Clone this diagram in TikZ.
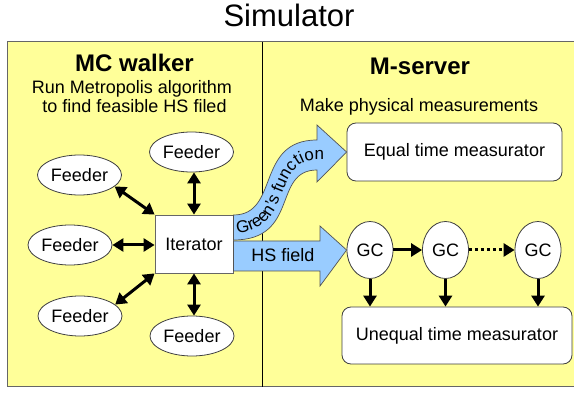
\documentclass[tikz,border=0pt]{standalone}
\usepackage{fontspec}
\setmainfont{Liberation Sans}
\usetikzlibrary{arrows.meta,decorations.text,shapes.geometric}
\definecolor{bgyellow}{HTML}{FFFF99}
\definecolor{arrowblue}{HTML}{99CCFF}
\definecolor{edge}{HTML}{404040}
\begin{document}
\begin{tikzpicture}[x=1pt,y=-1pt,
  txt/.style={font=\fontsize{18}{18}\selectfont, inner sep=0pt},
  head/.style={font=\bfseries\fontsize{24}{24}\selectfont, inner sep=0pt, anchor=base},
  feeder/.style={ellipse, draw=edge, line width=0.8pt, fill=white, minimum width=84pt, minimum height=40pt, inner sep=0pt, txt},
  gcnode/.style={ellipse, draw=edge, line width=0.8pt, fill=white, minimum width=46pt, minimum height=57pt, inner sep=0pt, txt},
  iterbox/.style={rectangle, draw=edge!80, line width=0.8pt, fill=white, minimum width=78pt, minimum height=58pt, inner sep=0pt, txt},
  roundbox/.style={rectangle, rounded corners=9pt, draw=edge, line width=0.8pt, fill=white, inner sep=0pt, txt},
  dblarrow/.style={line width=3pt, {Triangle[length=11pt,width=13pt]}-{Triangle[length=11pt,width=13pt]}},
  onearrow/.style={line width=3pt, -{Triangle[length=11pt,width=13pt]}},
  blockarrow/.style={fill=arrowblue, draw=edge!90, line width=0.7pt, line join=miter}
]
\useasboundingbox (0,0) rectangle (574,393);
\clip (0,0) rectangle (574,393);
\fill[white] (0,0) rectangle (574,393);
% background panel
\draw[fill=bgyellow, draw=edge!80, line width=1pt] (7,42) rectangle (580,387);
\coordinate (divtop) at (262,42);
\coordinate (divbot) at (262,387);
\draw[line width=0.9pt, black] (divtop) -- (divbot);

% titles
\node[anchor=base, font=\fontsize{31}{31}\selectfont, inner sep=0pt] (title) at (289,27) {Simulator};
\node[head] (mc) at (134.5,72) {MC walker};
\node[txt, anchor=base] (mc1) at (132,94) {Run Metropolis algorithm};
\node[txt, anchor=base] (mc2) at (134.5,113) {to find feasible HS filed};
\node[head] (ms) at (420,75) {M-server};
\node[txt, anchor=base] (ms2) at (419,112) {Make physical measurements};

% left side
\node[iterbox] (iter) at (194,244) {Iterator};
\node[feeder] (f1) at (191.5,152) {Feeder};
\node[feeder] (f2) at (79.5,175) {Feeder};
\node[feeder] (f3) at (70,245) {Feeder};
\node[feeder] (f4) at (80,316) {Feeder};
\node[feeder] (f5) at (192,336) {Feeder};

\draw[dblarrow] (f1.south -| iter.north) -- (iter.north);
\draw[dblarrow] (f5.north -| iter.south) -- (iter.south);
\draw[dblarrow] (f3.east) -- (f3.east -| iter.west);
\draw[dblarrow] (f2.-18) -- (iter.north west);
\draw[dblarrow] (f4.18) -- (iter.south west);

% right side
\node[roundbox, minimum width=215pt, minimum height=58pt] (eq) at (454.5,152) {Equal time measurator};
\node[gcnode] (gc1) at (370,250) {GC};
\node[gcnode] (gc2) at (445.5,250) {GC};
\node[gcnode] (gc3) at (538,250) {GC};
\node[roundbox, minimum width=230pt, minimum height=57pt] (ueq) at (457,335.5) {Unequal time measurator};

\draw[onearrow] (gc1) -- (gc2);
\draw[onearrow, dash pattern=on 3pt off 3pt] (gc2) -- (gc3);
\draw[onearrow] (gc1.south) -- (gc1.south |- ueq.north);
\draw[onearrow] (gc2.south) -- (gc2.south |- ueq.north);
\draw[onearrow] (gc3.south) -- (gc3.south |- ueq.north);

% HS field block arrow
\draw[blockarrow] (iter.east |- 0,241) -- (320,241) -- (320,226) -- (gc1.west) -- (320,286) -- (320,271) -- (iter.east |- 0,271) -- cycle;
\node[txt, anchor=base] (hs) at (283,262) {HS field};

% Green's function curved arrow
\draw[blockarrow] (iter.east |- 0,240) .. controls (300,240) and (272,170) .. (317,170)
  -- (317,182) -- (eq.west) -- (317,125) -- (317,140)
  .. controls (255,140) and (280,215) .. (iter.east |- 0,215) -- cycle;
\path[decorate, decoration={text along path, text align=left, text align/left indent=4pt,
  text={|\fontsize{17}{17}\selectfont|Green's function}}]
  (233,233) .. controls (295,233) and (270,160) .. (317,160) -- (350,160);
\end{tikzpicture}
\end{document}
